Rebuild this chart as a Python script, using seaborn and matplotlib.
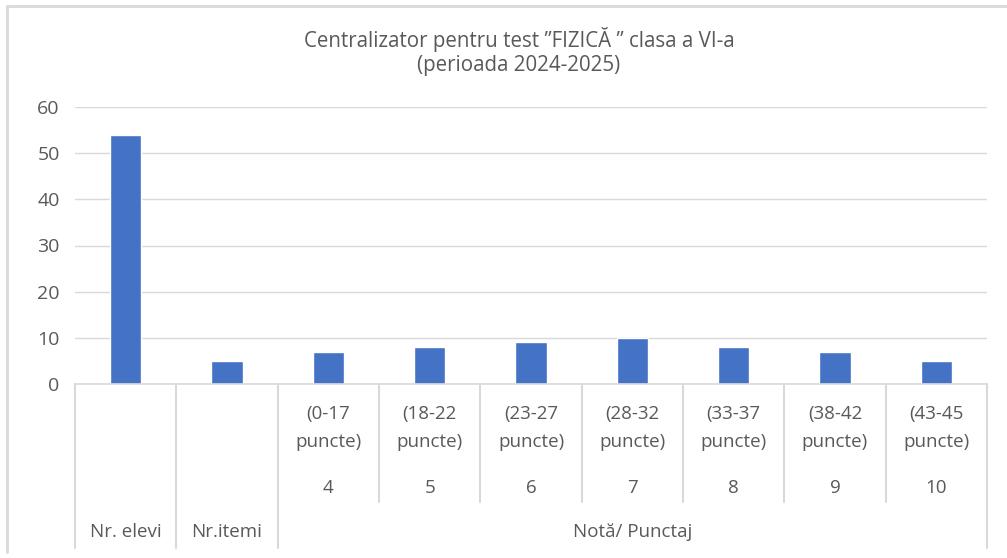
import matplotlib
matplotlib.use("Agg")
import matplotlib.pyplot as plt
import matplotlib.transforms as mtransforms
from matplotlib.lines import Line2D
import seaborn as sns
import pandas as pd

# ---- data ----
categories = ["Nr. elevi", "Nr.itemi", "4", "5", "6", "7", "8", "9", "10"]
values = [54, 5, 7, 8, 9, 10, 8, 7, 5]
range_lo = ["", "", "(0-17", "(18-22", "(23-27", "(28-32", "(33-37", "(38-42", "(43-45"]
grades = ["", "", "4", "5", "6", "7", "8", "9", "10"]
group_label = "Notă/ Punctaj"
yticks = [0, 10, 20, 30, 40, 50, 60]

df = pd.DataFrame({"cat": categories, "val": values})

sns.set_theme(style="white")
plt.rcParams['font.family'] = ['Open Sans', 'DejaVu Sans']

TXT = "#595959"
GRID = "#D9D9D9"
BLUE = "#4472C4"
FS = 13.5

W, H = 1007, 558
fig = plt.figure(figsize=(W / 100, H / 100), dpi=100)
ax = fig.add_axes([75 / W, (H - 384) / H, (987 - 75) / W, (384 - 107) / H])

sns.barplot(data=df, x="cat", y="val", order=categories, color=BLUE,
            width=0.31, saturation=1, ax=ax)

ax.set_ylim(0, 60)
ax.set_xlim(-0.5, len(categories) - 0.5)
ax.set_yticks(yticks)
ax.set_yticklabels([str(t) for t in yticks], fontsize=14, color=TXT)
ax.tick_params(axis="y", length=0, pad=11)
ax.set_xticks([])
ax.set_xlabel("")
ax.set_ylabel("")
ax.yaxis.grid(True, color=GRID, linewidth=1)
ax.set_axisbelow(True)
for s in ["left", "right", "top"]:
    ax.spines[s].set_visible(False)
ax.spines["bottom"].set_color(GRID)
ax.spines["bottom"].set_linewidth(1.2)

# ---- multi-level category axis ----
ah = 384 - 107
def fy(py):
    # pixel row below the axis -> axes fraction
    return -(py - 384) / ah

trans = mtransforms.blended_transform_factory(ax.transData, ax.transAxes)
n = len(categories)
for i in range(n + 1):
    xpos = i - 0.5
    outer = i in (0, 1, 2, n)
    y_end = fy(548) if outer else fy(502)
    ax.add_line(Line2D([xpos, xpos], [0, y_end], transform=trans,
                       color=GRID, linewidth=1.5, clip_on=False))

for i in range(n):
    if range_lo[i]:
        ax.text(i, fy(414), range_lo[i], transform=trans, ha="center",
                va="center", fontsize=FS, color=TXT)
        ax.text(i, fy(442), "puncte)", transform=trans, ha="center",
                va="center", fontsize=FS, color=TXT)
        ax.text(i, fy(488), grades[i], transform=trans, ha="center",
                va="center", fontsize=FS, color=TXT)
    else:
        ax.text(i, fy(532), categories[i], transform=trans, ha="center",
                va="center", fontsize=FS, color=TXT)

ax.text((2 + n - 1) / 2, fy(532), group_label, transform=trans,
        ha="center", va="center", fontsize=FS, color=TXT)

# ---- title ----
fig.text(519 / W, 1 - 39 / H, "Centralizator pentru test \u201dFIZICĂ \u201d clasa a VI-a",
         ha="center", va="center", fontsize=14.8, color=TXT)
fig.text(519 / W, 1 - 66 / H, "(perioada 2024-2025)",
         ha="center", va="center", fontsize=14.8, color=TXT)

# chart frame (left and top edges visible)
fig.add_artist(Line2D([7 / W, 7 / W], [1 - 6 / H, 1 - 552 / H], color=GRID, linewidth=2))
fig.add_artist(Line2D([7 / W, 1.0], [1 - 6 / H, 1 - 6 / H], color=GRID, linewidth=2))

fig.savefig("out.png", dpi=100)
